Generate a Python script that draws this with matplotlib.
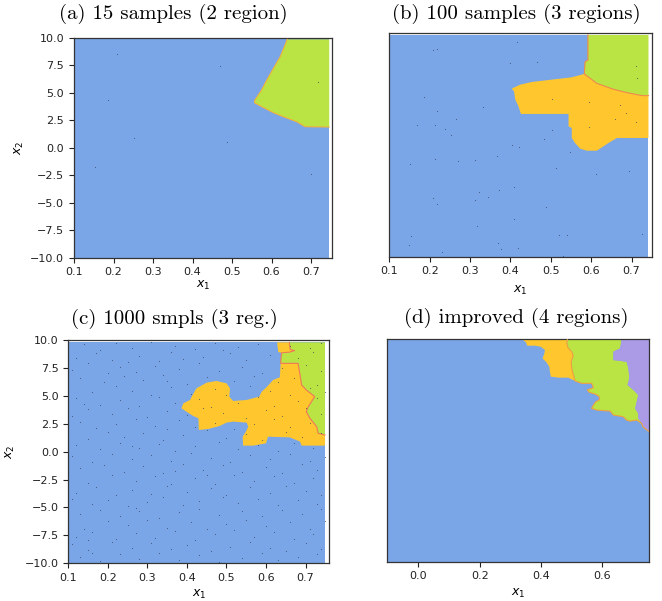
import numpy as np
import matplotlib.pyplot as plt

BLUE = '#7aa6e8'
GREEN = '#b9e443'
YELLOW = '#ffc72d'
PURPLE = '#ab9be6'
DOT = '#34405f'

titles = ['(a) 15 samples (2 region)', '(b) 100 samples (3 regions)',
          '(c) 1000 smpls (3 reg.)', '(d) improved (4 regions)']

# sampled extent of each region map (x0, x1, y0, y1)
extent_a = (0.1, 0.746, -10, 9.85)
extent_b = (0.1, 0.742, -10, 9.85)
extent_c = (0.1, 0.749, -10, 9.79)
extent_d = (-0.101, 0.753, -10, 10)

# (a) green region border, top edge -> right edge
green_a_edge = [(0.640, 9.85), (0.622, 8.27), (0.605, 7.22), (0.588, 6.15), (0.575, 5.25),
                (0.558, 4.34), (0.557, 4.09), (0.575, 3.73), (0.605, 3.18), (0.634, 2.76),
                (0.664, 2.36), (0.685, 1.91), (0.746, 1.88)]
pts_a_x = [0.210, 0.470, 0.186, 0.252, 0.487, 0.153, 0.699, 0.718]
pts_a_y = [8.52, 7.43, 4.34, 0.91, 0.55, -1.73, -2.36, 6.00]

# (b)
green_b_edge = [(0.592, 9.85), (0.592, 7.61), (0.585, 7.46), (0.583, 6.36), (0.614, 5.52),
                (0.655, 4.99), (0.688, 4.69), (0.726, 4.42), (0.742, 4.42)]
yellow_b_edge = [(0.583, 6.36), (0.552, 6.06), (0.502, 5.85), (0.453, 5.64), (0.424, 5.40),
                 (0.403, 5.04), (0.409, 4.81), (0.412, 4.06), (0.420, 3.46), (0.426, 2.78),
                 (0.544, 2.78), (0.544, 1.67), (0.552, 1.52), (0.552, 0.63), (0.560, 0.18),
                 (0.573, -0.33), (0.589, -0.51), (0.614, -0.51), (0.643, 0.18), (0.664, 0.63),
                 (0.742, 0.63)]
pts_b = [(0.416, 9.25), (0.209, 8.51), (0.217, 8.60), (0.399, 7.37), (0.467, 7.43), (0.710, 7.10),
         (0.713, 5.97), (0.186, 4.30), (0.502, 4.09), (0.595, 3.85), (0.672, 3.61), (0.331, 3.40),
         (0.217, 3.04), (0.686, 2.90), (0.264, 2.36), (0.660, 2.30), (0.712, 2.09), (0.169, 1.76),
         (0.212, 1.79), (0.238, 1.43), (0.595, 1.64), (0.503, 1.34), (0.252, 0.90), (0.484, 0.57),
         (0.403, 0.03), (0.421, -0.18), (0.548, -0.66), (0.152, -1.70), (0.212, -1.22), (0.270, -1.43),
         (0.312, -1.37), (0.368, -0.96), (0.512, -2.09), (0.612, -2.63), (0.695, -2.33), (0.408, -3.76),
         (0.322, -4.21), (0.345, -4.63), (0.371, -4.06), (0.208, -4.72), (0.219, -5.25), (0.313, -4.93),
         (0.487, -5.55), (0.408, -6.60), (0.317, -7.25), (0.154, -8.12), (0.150, -8.93), (0.369, -8.81),
         (0.376, -9.34), (0.420, -9.22), (0.231, -9.61), (0.520, -8.06), (0.540, -8.09), (0.726, -7.97),
         (0.530, -9.94), (0.389, 10.0)]

# (c)
green_c_edge = [(0.659, 9.79), (0.661, 9.15), (0.672, 9.05), (0.660, 8.92), (0.639, 8.85),
                (0.637, 7.91), (0.681, 7.91), (0.686, 6.87), (0.690, 5.97), (0.702, 5.52),
                (0.723, 4.93), (0.715, 4.48), (0.707, 4.03), (0.702, 3.58), (0.711, 2.99),
                (0.728, 2.24), (0.732, 1.64), (0.749, 1.49)]
yellow_c_outer = [(0.749, 0.54), (0.690, 0.54), (0.686, 0.90), (0.660, 1.28), (0.605, 1.34),
                  (0.600, 0.75), (0.568, 0.54), (0.542, 0.54), (0.541, 1.34), (0.549, 1.79),
                  (0.555, 2.24), (0.551, 2.60), (0.517, 2.69), (0.500, 2.60), (0.483, 2.30),
                  (0.454, 2.03), (0.430, 1.94), (0.429, 2.99), (0.416, 3.19), (0.399, 3.58),
                  (0.386, 3.88), (0.391, 4.33), (0.408, 4.63), (0.412, 4.93), (0.424, 5.67),
                  (0.450, 6.18), (0.475, 6.33), (0.500, 6.12), (0.509, 5.67), (0.507, 4.93),
                  (0.517, 4.54), (0.551, 4.63), (0.583, 4.93), (0.589, 5.37), (0.601, 5.76),
                  (0.618, 6.42), (0.635, 6.66)]
yellow_c_strip_left = [(0.631, 8.92), (0.628, 9.79)]
pts_c = [
    (0.14, 9.6), (0.22, 9.7), (0.26, 9.3), (0.31, 9.8), (0.37, 9.5), (0.42, 9.2), (0.47, 9.7),
    (0.53, 9.4), (0.58, 9.6), (0.66, 9.5), (0.71, 9.3), (0.74, 9.7), (0.18, 9.1), (0.49, 9.1),
    (0.12, 8.4), (0.17, 8.8), (0.21, 8.2), (0.28, 8.6), (0.33, 8.1), (0.36, 8.9), (0.44, 8.5),
    (0.51, 8.8), (0.55, 8.2), (0.61, 8.7), (0.68, 8.4), (0.72, 8.9), (0.39, 8.3), (0.25, 8.0),
    (0.11, 7.3), (0.15, 7.9), (0.23, 7.6), (0.27, 7.1), (0.32, 7.7), (0.38, 7.4), (0.43, 7.9),
    (0.48, 7.2), (0.54, 7.6), (0.59, 7.0), (0.64, 7.5), (0.70, 7.8), (0.74, 7.2), (0.20, 7.0),
    (0.13, 6.6), (0.19, 6.2), (0.24, 6.8), (0.29, 6.4), (0.34, 6.9), (0.40, 6.1), (0.45, 6.7),
    (0.52, 6.3), (0.57, 6.8), (0.63, 6.2), (0.67, 6.6), (0.73, 6.0), (0.35, 6.3),
    (0.10, 5.7), (0.16, 5.3), (0.22, 5.9), (0.26, 5.4), (0.31, 5.1), (0.36, 5.8), (0.41, 5.2),
    (0.47, 5.6), (0.50, 5.1), (0.56, 5.9), (0.61, 5.4), (0.66, 5.1), (0.71, 5.7), (0.75, 5.3),
    (0.12, 4.8), (0.18, 4.2), (0.23, 4.6), (0.28, 4.1), (0.33, 4.9), (0.37, 4.4), (0.43, 4.7),
    (0.46, 4.0), (0.53, 4.4), (0.58, 4.9), (0.62, 4.1), (0.68, 4.5), (0.73, 4.8), (0.14, 4.3),
    (0.11, 3.2), (0.15, 3.8), (0.21, 3.4), (0.25, 3.9), (0.30, 3.1), (0.35, 3.6), (0.40, 3.3),
    (0.44, 3.9), (0.49, 3.5), (0.55, 3.0), (0.60, 3.7), (0.64, 3.2), (0.70, 3.9), (0.74, 3.4),
    (0.13, 2.7), (0.17, 2.1), (0.22, 2.5), (0.27, 2.9), (0.32, 2.3), (0.38, 2.8), (0.42, 2.2),
    (0.47, 2.6), (0.52, 2.0), (0.57, 2.5), (0.62, 2.9), (0.66, 2.2), (0.71, 2.6), (0.35, 2.0),
    (0.10, 1.6), (0.15, 1.1), (0.20, 1.8), (0.24, 1.3), (0.29, 1.7), (0.34, 1.0), (0.39, 1.5),
    (0.45, 1.9), (0.50, 1.2), (0.55, 1.6), (0.59, 1.0), (0.65, 1.8), (0.69, 1.3), (0.74, 1.7),
    (0.12, 0.6), (0.18, 0.2), (0.23, 0.8), (0.28, 0.3), (0.33, 0.7), (0.37, 0.1), (0.42, 0.5),
    (0.48, 0.9), (0.53, 0.2), (0.58, 0.6), (0.63, 0.1), (0.67, 0.8), (0.72, 0.3), (0.26, 0.5),
    (0.11, -0.4), (0.16, -0.9), (0.21, -0.2), (0.26, -0.7), (0.31, -0.3), (0.36, -0.8), (0.41, -0.1),
    (0.46, -0.6), (0.51, -0.9), (0.56, -0.3), (0.61, -0.7), (0.66, -0.2), (0.71, -0.8), (0.75, -0.5),
    (0.13, -1.5), (0.19, -1.2), (0.24, -1.8), (0.29, -1.3), (0.34, -1.9), (0.39, -1.1), (0.44, -1.6),
    (0.49, -1.2), (0.54, -1.8), (0.60, -1.4), (0.64, -1.9), (0.69, -1.1), (0.73, -1.6), (0.37, -1.7),
    (0.10, -2.3), (0.15, -2.8), (0.21, -2.1), (0.27, -2.6), (0.32, -2.2), (0.36, -2.9), (0.42, -2.4),
    (0.47, -2.9), (0.52, -2.1), (0.57, -2.6), (0.62, -2.2), (0.67, -2.8), (0.72, -2.4), (0.45, -2.1),
    (0.12, -3.7), (0.17, -3.2), (0.22, -3.9), (0.26, -3.4), (0.31, -3.8), (0.35, -3.1), (0.40, -3.6),
    (0.46, -3.3), (0.50, -3.9), (0.56, -3.2), (0.61, -3.7), (0.65, -3.1), (0.70, -3.5), (0.74, -3.9),
    (0.11, -4.2), (0.16, -4.7), (0.20, -4.3), (0.25, -4.9), (0.30, -4.5), (0.34, -4.1), (0.39, -4.8),
    (0.43, -4.4), (0.49, -4.1), (0.53, -4.6), (0.58, -4.2), (0.63, -4.8), (0.68, -4.3), (0.73, -4.7),
    (0.13, -5.6), (0.18, -5.2), (0.23, -5.8), (0.28, -5.3), (0.33, -5.9), (0.38, -5.4), (0.43, -5.1),
    (0.48, -5.7), (0.54, -5.3), (0.59, -5.8), (0.64, -5.2), (0.69, -5.6), (0.74, -5.1), (0.27, -5.05),
    (0.10, -6.4), (0.14, -6.9), (0.20, -6.2), (0.25, -6.6), (0.30, -6.1), (0.35, -6.8), (0.41, -6.3),
    (0.45, -6.9), (0.50, -6.5), (0.55, -6.1), (0.60, -6.7), (0.66, -6.3), (0.71, -6.9), (0.75, -6.2),
    (0.12, -7.6), (0.16, -7.2), (0.22, -7.8), (0.27, -7.3), (0.32, -7.7), (0.37, -7.1), (0.42, -7.9),
    (0.47, -7.4), (0.52, -7.0), (0.57, -7.6), (0.62, -7.2), (0.67, -7.8), (0.72, -7.4), (0.15, -7.95),
    (0.11, -8.3), (0.15, -8.8), (0.21, -8.1), (0.26, -8.6), (0.31, -8.2), (0.36, -8.7), (0.40, -8.4),
    (0.46, -8.9), (0.51, -8.5), (0.56, -8.1), (0.61, -8.6), (0.65, -8.9), (0.70, -8.2), (0.74, -8.7),
    (0.13, -9.4), (0.18, -9.8), (0.23, -9.2), (0.28, -9.6), (0.33, -9.1), (0.38, -9.7), (0.43, -9.3),
    (0.48, -9.9), (0.54, -9.5), (0.59, -9.1), (0.63, -9.7), (0.68, -9.4), (0.73, -9.2), (0.16, -9.05)]

# (d)
yellow_d_edge = [(0.337, 10.0), (0.351, 9.70), (0.355, 9.40), (0.380, 9.40), (0.399, 9.31),
                 (0.413, 9.01), (0.410, 8.62), (0.405, 8.26), (0.418, 7.90), (0.427, 7.51),
                 (0.429, 7.07), (0.432, 6.62), (0.457, 6.53), (0.489, 6.53), (0.511, 6.23)]
yg_d_edge = [(0.486, 10.0), (0.484, 9.61), (0.489, 9.16), (0.500, 8.86), (0.505, 8.50),
             (0.498, 7.96), (0.500, 7.37), (0.505, 6.83), (0.511, 6.23)]
gb_d_edge = [(0.511, 6.23), (0.533, 6.02), (0.565, 6.02), (0.571, 5.63), (0.551, 5.42),
             (0.558, 5.21), (0.579, 5.03), (0.590, 4.82), (0.590, 4.52), (0.579, 4.37),
             (0.571, 4.07), (0.565, 3.77), (0.582, 3.62), (0.625, 3.53), (0.636, 3.17),
             (0.668, 3.02), (0.679, 2.72), (0.690, 2.63), (0.712, 2.72), (0.728, 2.43)]
pb_d_edge = [(0.728, 2.43), (0.732, 2.13), (0.745, 1.83), (0.753, 1.68)]
pg_d_edge = [(0.663, 10.0), (0.658, 9.16), (0.636, 8.86), (0.636, 8.11), (0.679, 7.96),
             (0.685, 7.37), (0.688, 6.47), (0.682, 5.87), (0.701, 5.42), (0.717, 4.97),
             (0.712, 4.37), (0.707, 3.77), (0.717, 3.32), (0.717, 2.87), (0.728, 2.43)]

W, H = 662, 601
fig = plt.figure(figsize=(W / 100, H / 100), dpi=100)


def axes_px(l, r, t, b):
    return fig.add_axes([l / W, 1 - b / H, (r - l) / W, (b - t) / H])


def fill_poly(ax, pts, color):
    xs, ys = zip(*pts)
    ax.fill(xs, ys, color=color, lw=0, zorder=2)


def edge_line(ax, pts, color):
    xs, ys = zip(*pts)
    ax.plot(xs, ys, color=color, lw=0.8, zorder=3, solid_joinstyle='round')


def base(ax, ext, xlim, ylabel=True):
    x0, x1, y0, y1 = ext
    fill_poly(ax, [(x0, y0), (x1, y0), (x1, y1), (x0, y1)], BLUE)
    ax.set_xlim(*xlim)
    ax.set_ylim(-10, 10)
    ax.tick_params(labelsize=8, length=3.5, width=0.8, colors='#222222')
    for s in ax.spines.values():
        s.set_linewidth(0.9)
        s.set_color('#333333')
    ax.set_xlabel('$x_1$', fontsize=9)
    if ylabel:
        ax.set_ylabel('$x_2$', fontsize=9)
    else:
        ax.set_yticks([])


def dots(ax, xs, ys):
    ax.plot(xs, ys, '.', ms=1.6, color=DOT, alpha=0.75, mec='none', zorder=4)


# (a)
ax = axes_px(74, 332, 37.7, 257.7)
base(ax, extent_a, (0.1, 0.753))
fill_poly(ax, green_a_edge + [(extent_a[1], extent_a[3])], GREEN)
edge_line(ax, green_a_edge, '#f3b437')
dots(ax, pts_a_x, pts_a_y)
ax.set_xticks([0.1, 0.2, 0.3, 0.4, 0.5, 0.6, 0.7])
ax.set_yticks([-10, -7.5, -5, -2.5, 0, 2.5, 5, 7.5, 10])
ax.xaxis.set_label_coords(0.5, -0.095)
ax.yaxis.set_label_coords(-0.186, 0.5)

# (b)
ax = axes_px(389.3, 651.7, 33.3, 256.7)
base(ax, extent_b, (0.1, 0.75), ylabel=False)
fill_poly(ax, yellow_b_edge + green_b_edge[3:][::-1], YELLOW)
fill_poly(ax, green_b_edge + [(extent_b[1], extent_b[3])], GREEN)
edge_line(ax, green_b_edge, '#f2894a')
bx, by = zip(*pts_b)
dots(ax, bx, by)
ax.set_xticks([0.1, 0.2, 0.3, 0.4, 0.5, 0.6, 0.7])
ax.xaxis.set_label_coords(0.5, -0.122)

# (c)
ax = axes_px(68.3, 329.3, 340, 563.3)
base(ax, extent_c, (0.1, 0.76))
fill_poly(ax, green_c_edge + [(extent_c[1], extent_c[3])], GREEN)
fill_poly(ax, green_c_edge[5:] + yellow_c_outer, YELLOW)
fill_poly(ax, yellow_c_strip_left[1:] + green_c_edge[:5] + yellow_c_strip_left[:1], YELLOW)
edge_line(ax, green_c_edge, '#f07a55')
cx, cy = zip(*pts_c)
dots(ax, cx, cy)
ax.set_xticks([0.1, 0.2, 0.3, 0.4, 0.5, 0.6, 0.7])
ax.set_yticks([-10, -7.5, -5, -2.5, 0, 2.5, 5, 7.5, 10])
ax.xaxis.set_label_coords(0.5, -0.108)
ax.yaxis.set_label_coords(-0.197, 0.5)

# (d)
ax = axes_px(387.3, 649.3, 339, 561.7)
base(ax, extent_d, (-0.101, 0.753), ylabel=False)
fill_poly(ax, yellow_d_edge + yg_d_edge[::-1], YELLOW)
fill_poly(ax, yg_d_edge + gb_d_edge + pg_d_edge[::-1], GREEN)
fill_poly(ax, pg_d_edge + pb_d_edge + [(extent_d[1], extent_d[3])], PURPLE)
edge_line(ax, yg_d_edge + gb_d_edge + pb_d_edge, '#f0a040')
ax.set_xticks([0.0, 0.2, 0.4, 0.6])
ax.xaxis.set_label_coords(0.5, -0.114)

# subfigure captions
cap_pos = [(173, 14), (516, 14), (174, 319), (516, 318)]
for t, (cx_, cy_) in zip(titles, cap_pos):
    fig.text(cx_ / W, 1 - cy_ / H, t, ha='center', va='center', fontsize=15, family='cmr10')

fig.savefig('out.png', dpi=100)
